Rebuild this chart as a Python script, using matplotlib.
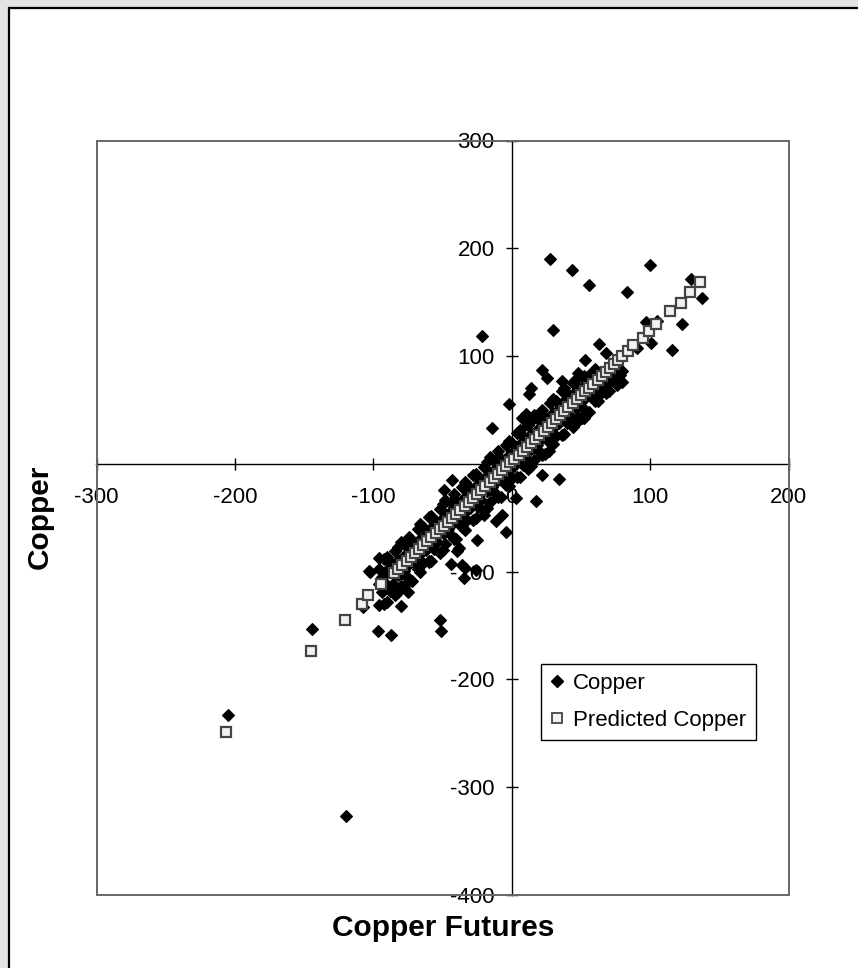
import matplotlib
matplotlib.use('Agg')
import matplotlib.pyplot as plt
from matplotlib.patches import Rectangle
from matplotlib.lines import Line2D

plt.rcParams['font.family'] = ['Liberation Sans', 'DejaVu Sans']
plt.rcParams['axes.unicode_minus'] = False

# Copper (gia tri quan sat) - cac diem le nam ngoai dai
outlier_x = [-204.8, -119.8, -144.2, -96.5, -87.4, -79.7, -75.1, -75.1, -52.0, -51.3,
             -102.5, -107.4, -43.9, -34.0, -26.0, -34.5,
             28.0, 43.7, 55.7, 83.4, 100.2, 129.5, 137.5, 123.0, 29.7, -21.3, 97.0, 105.0,
             115.8, 100.9, 63.4, 52.8, 68.2, 90.5,
             -2.0, -14.0, 22.0, 14.3, -48.9, -42.9, 34.0, 17.2, -4.4, -24.9, -39.3, -35.7,
             -103.0, -95.8, 10.0, 22.0, 26.8, -59.7, -38.0, 25.6, 36.4, 12.4, 7.6, 2.8,
             -11.6, -20.0, -6.9, 50.9, 52.0]
outlier_y = [-232.7, -326.9, -153.4, -154.9, -159.2, -132.3, -119.3, -106.0, -145.3, -155.5,
             -100.4, -133.0, -93.0, -96.7, -98.2, -106.0,
             190.0, 180.1, 165.8, 159.9, 184.4, 171.4, 154.3, 129.6, 124.3, 118.7, 131.7, 132.7,
             105.4, 112.5, 111.6, 96.1, 103.2, 107.8,
             55.2, 33.5, 86.8, 70.1, -24.7, -15.4, -13.9, -34.0, -63.2, -70.3, -81.2, -93.5,
             -99.7, -87.4, 45.9, -9.9, 11.8, -90.5, -78.0, 80.0, 77.0, 64.5, 42.8, -31.6,
             -53.3, -47.0, -47.0, 42.8, 43.0]

# Copper - dai diem day dac doc theo duong hoi quy
band_x = [-96, -96, -96, -92, -92, -92, -88, -88, -88, -84, -84, -84, -80, -80, -80,
          -76, -76, -76, -72, -72, -72, -68, -68, -68, -64, -64, -64, -60, -60, -60,
          -56, -56, -56, -52, -52, -52, -48, -48, -48, -44, -44, -44, -40, -40, -40,
          -36, -36, -36, -32, -32, -32, -28, -28, -28, -24, -24, -24, -20, -20, -20,
          -16, -16, -16, -12, -12, -12, -8, -8, -8, -4, -4, -4, 0, 0, 0,
          4, 4, 4, 8, 8, 8, 12, 12, 12, 16, 16, 16, 20, 20, 20,
          24, 24, 24, 28, 28, 28, 32, 32, 32, 36, 36, 36, 40, 40, 40,
          44, 44, 44, 48, 48, 48, 52, 52, 52, 56, 56, 56, 60, 60, 60,
          64, 64, 68, 68, 72, 72, 76, 76, 80, 80]
band_y = [-97.6, -111.6, -130.6, -88.7, -114.7, -129.7, -90.9, -98.9, -117.9, -81.0, -102.0, -122.0,
          -72.1, -102.1, -113.1, -74.2, -89.2, -105.2, -73.3, -81.3, -108.3, -60.5, -83.5, -97.5,
          -58.6, -72.6, -91.6, -49.7, -75.7, -90.7, -51.8, -59.8, -78.8, -41.9, -62.9, -82.9,
          -33.1, -63.1, -74.1, -35.2, -50.2, -66.2, -34.3, -42.3, -69.3, -21.4, -44.4, -58.4,
          -19.5, -33.5, -52.5, -10.7, -36.7, -51.7, -12.8, -20.8, -39.8, -2.9, -23.9, -43.9,
          6.0, -24.0, -35.0, 3.9, -11.1, -27.1, 4.7, -3.3, -30.3, 17.6, -5.4, -19.4,
          19.5, 5.5, -13.5, 28.4, 2.4, -12.6, 26.3, 18.3, -0.7, 36.1, 15.1, -4.9,
          45.0, 15.0, 4.0, 42.9, 27.9, 11.9, 43.8, 35.8, 8.8, 56.7, 33.7, 19.7,
          58.5, 44.5, 25.5, 67.4, 41.4, 26.4, 65.3, 57.3, 38.3, 75.2, 54.2, 34.2,
          84.1, 54.1, 43.1, 81.9, 66.9, 50.9, 82.8, 74.8, 47.8, 88.0, 72.7, 58.7,
          83.6, 64.6, 80.5, 65.5, 84.3, 77.3, 87.2, 73.2, 86.1, 76.1]
inner_x = [-94, -94, -90, -90, -86, -86, -82, -82, -78, -78, -74, -74, -70, -70, -66, -66,
           -62, -62, -58, -58, -54, -54, -50, -50, -46, -46, -42, -42, -38, -38, -34, -34,
           -30, -30, -26, -26, -22, -22, -18, -18, -14, -14, -10, -10, -6, -6, -2, -2,
           2, 2, 6, 6, 10, 10, 14, 14, 18, 18, 22, 22, 26, 26, 30, 30, 34, 34,
           38, 38, 42, 42, 46, 46, 50, 50, 54, 54, 58, 58, 62, 62, 66, 66, 70, 70, 74, 74, 78]
inner_y = [-105.2, -119.2, -98.3, -112.3, -97.4, -111.4, -89.5, -103.5, -85.7, -99.7,
           -78.8, -92.8, -77.9, -91.9, -70.0, -84.0, -66.1, -80.1, -59.3, -73.3,
           -58.4, -72.4, -50.5, -64.5, -46.6, -60.6, -39.7, -53.7, -38.9, -52.9,
           -31.0, -45.0, -27.1, -41.1, -20.2, -34.2, -19.3, -33.3, -11.5, -25.5,
           -7.6, -21.6, -0.7, -14.7, 0.2, -13.8, 8.1, -5.9, 11.9, -2.1, 18.8, 4.8,
           19.7, 5.7, 27.6, 13.6, 31.5, 17.5, 38.3, 24.3, 39.2, 25.2, 47.1, 33.1,
           51.0, 38.0, 57.9, 43.9, 58.7, 44.7, 66.6, 52.6, 70.5, 57.5, 77.4, 62.4,
           78.3, 64.3, 83.1, 71.1, 76.0, 72.0, 80.0, 76.0, 84.0, 79.0, 82.0]
# Copper - cac diem o mep dai
edge_x = [-90, -90, -82, -82, -74, -74, -66, -66, -58, -58, -50, -50, -42, -42,
          -34, -34, -26, -26, -18, -18, -10, -10, -2, -2, 6, 6, 14, 14, 22, 22,
          30, 30, 38, 38, 46, 46, 54, 62, 70]
edge_y = [-86.0, -128.0, -77.0, -119.0, -68.0, -109.0, -56.0, -100.0, -48.0, -90.0,
          -37.0, -80.0, -28.0, -70.0, -17.0, -61.0, -9.0, -50.0, 2.0, -41.0,
          12.0, -31.0, 21.0, -21.0, 31.0, -12.0, 40.0, -2.0, 50.0, 8.0,
          60.0, 18.0, 70.0, 28.0, 78.0, 37.0, 47.0, 58.0, 68.0]

# Predicted Copper
pred_x = [-206.4, -145.1, -120.3, -108.3, -103.5, -94.2, -85.0,
          -82, -79, -76, -73, -70, -67, -64, -61, -58, -55, -52, -49, -46, -43, -40,
          -37, -34, -31, -28, -25, -22, -19, -16, -13, -10, -7, -4, -1, 2, 5, 8, 11,
          14, 17, 20, 23, 26, 29, 32, 35, 38, 41, 44, 47, 50, 53, 56, 59, 62, 65,
          68, 71, 74, 77, 80,
          84.0, 88.0, 94.7, 99.0, 104.3, 114.6, 122.3, 128.6, 136.3]
pred_y = [-248.5, -173.2, -144.7, -129.8, -122.0, -111.2, -101.3,
          -97.5, -93.9, -90.2, -86.6, -82.9, -79.2, -75.6, -71.9, -68.3, -64.6, -60.9,
          -57.3, -53.6, -50.0, -46.3, -42.6, -39.0, -35.3, -31.7, -28.0, -24.3, -20.7,
          -17.0, -13.4, -9.7, -6.0, -2.4, 1.3, 4.9, 8.6, 12.3, 15.9, 19.6, 23.2, 26.9,
          30.6, 34.2, 37.9, 41.5, 45.2, 48.9, 52.5, 56.2, 59.8, 63.5, 67.2, 70.8, 74.5,
          78.1, 81.8, 85.5, 89.1, 92.8, 96.4, 100.1,
          105.0, 110.0, 117.0, 123.4, 129.6, 142.0, 149.7, 159.0, 168.3]

x_ticks = [-300, -200, -100, 0, 100, 200]
y_ticks = [-400, -300, -200, -100, 0, 100, 200, 300]

W, H = 858, 968
fig = plt.figure(figsize=(W / 100, H / 100), dpi=100)
fig.patch.set_facecolor('#e4e4e4')
# khung bieu do trang (bi cat o ben phai va ben duoi)
fig.patches.append(Rectangle((8.5 / W, -0.1), 1.2, 1.1 - 7.5 / H, transform=fig.transFigure,
                             facecolor='white', edgecolor='black', linewidth=1.6, zorder=-10))

ax = fig.add_axes([96.5 / W, 73 / H, 692 / W, 754.5 / H])
ax.set_facecolor('white')
ax.set_xlim(-300, 200)
ax.set_ylim(-400, 300)

ax.spines['left'].set_position('zero')
ax.spines['bottom'].set_position('zero')
ax.spines['top'].set_visible(False)
ax.spines['right'].set_visible(False)
for s in ('left', 'bottom'):
    ax.spines[s].set_linewidth(1.0)
    ax.spines[s].set_color('black')
ax.add_patch(Rectangle((0, 0), 1, 1, transform=ax.transAxes, fill=False,
                       edgecolor='#666666', linewidth=1.4, zorder=4, clip_on=False))

ax.set_xticks(x_ticks)
ax.set_yticks(y_ticks)
ax.set_xticklabels([str(v) for v in x_ticks])
ax.set_yticklabels([str(v) for v in y_ticks])
ax.tick_params(axis='both', direction='inout', length=8.6, width=1.0, labelsize=16, colors='black')
ax.tick_params(axis='x', pad=12.5)
ax.tick_params(axis='y', pad=8)

all_x = outlier_x + band_x + inner_x + edge_x
all_y = outlier_y + band_y + inner_y + edge_y
ax.plot(all_x, all_y, linestyle='none', marker='D', markersize=6.5, markerfacecolor='black',
        markeredgecolor='black', markeredgewidth=0.8, zorder=3)
ax.plot(pred_x, pred_y, linestyle='none', marker='s', markersize=7.2,
        markerfacecolor='#f2f2f2', markeredgecolor='#444444', markeredgewidth=1.6, zorder=3.5)

handles = [
    Line2D([], [], linestyle='none', marker='D', markersize=6.0, markerfacecolor='black',
           markeredgecolor='black'),
    Line2D([], [], linestyle='none', marker='s', markersize=6.5, markerfacecolor='#f2f2f2',
           markeredgecolor='#444444', markeredgewidth=1.3),
]
leg = ax.legend(handles, ['Copper', 'Predicted Copper'], loc='upper left',
                bbox_to_anchor=(0.6417, 0.3064), borderaxespad=0, fontsize=16,
                frameon=True, fancybox=False, edgecolor='black', framealpha=1,
                borderpad=0.42, handlelength=0.6, handletextpad=0.45, labelspacing=0.72)
leg.get_frame().set_linewidth(1.0)

fig.text(443.5 / W, 1 - 928 / H, 'Copper Futures', ha='center', va='center',
         fontsize=21.5, fontweight='bold')
fig.text(40 / W, 1 - 516.5 / H, 'Copper', ha='center', va='center', rotation=90,
         fontsize=21.5, fontweight='bold')

fig.savefig('out.png', dpi=100, facecolor=fig.get_facecolor())
